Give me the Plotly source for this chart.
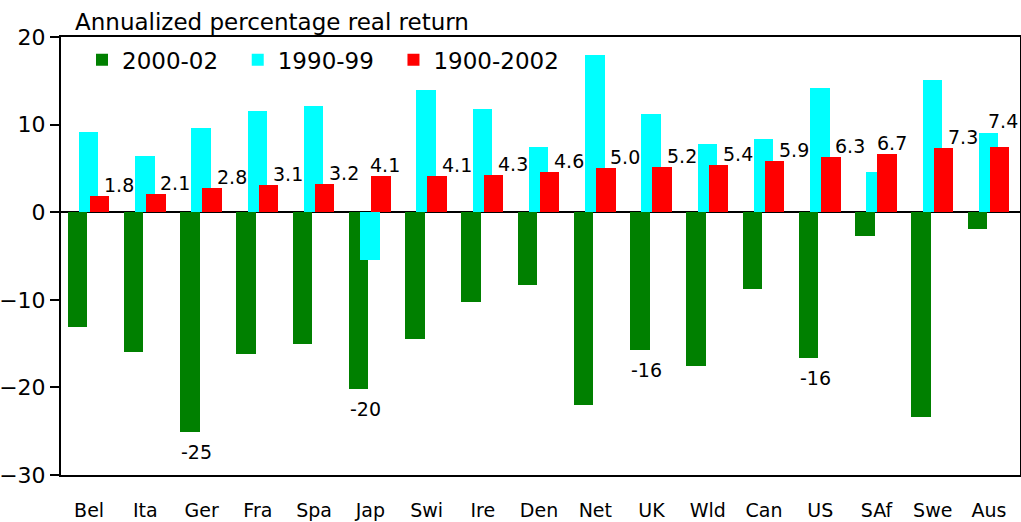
import plotly.graph_objects as go

categories = ["Bel", "Ita", "Ger", "Fra", "Spa", "Jap", "Swi", "Ire", "Den",
              "Net", "UK", "Wld", "Can", "US", "SAf", "Swe", "Aus"]
r_2000_02 = [-13.1, -16.0, -25.1, -16.2, -15.0, -20.2, -14.5, -10.3, -8.3,
             -22.0, -15.7, -17.6, -8.8, -16.7, -2.7, -23.4, -1.9]
r_1990_99 = [9.1, 6.4, 9.6, 11.6, 12.1, -5.4, 13.9, 11.8, 7.5,
             17.9, 11.2, 7.8, 8.3, 14.2, 4.6, 15.1, 9.0]
r_1900_2002 = [1.8, 2.1, 2.8, 3.1, 3.2, 4.1, 4.1, 4.3, 4.6,
               5.0, 5.2, 5.4, 5.9, 6.3, 6.7, 7.3, 7.4]
green_labels = ["", "", "-25", "", "", "-20", "", "", "",
                "", "-16", "", "", "-16", "", "", ""]
series_names = ["2000-02", "1990-99", "1900-2002"]
y_ticks = [-30, -20, -10, 0, 10, 20]

# label nudges (pixels) for the 1900-2002 value labels
red_dx = [30, 30, 30, 30, 30, 15, 30, 30, 30, 30, 30, 30, 30, 30, 15, 30, 14]
red_dy = [11] * 16 + [26]

FONT = "DejaVu Sans"
W = 0.346
PAD = "\u00a0\u00a0"  # legend spacing padding

fig = go.Figure()
fig.add_trace(go.Bar(x=categories, y=r_2000_02, name=series_names[0] + PAD,
                     marker=dict(color="#008000", line=dict(width=0)),
                     width=W, offset=-0.381))
fig.add_trace(go.Bar(x=categories, y=r_1990_99, name=series_names[1] + PAD,
                     marker=dict(color="#00FFFF", line=dict(width=0)),
                     width=W, offset=-0.181))
fig.add_trace(go.Bar(x=categories, y=r_1900_2002, name=series_names[2],
                     marker=dict(color="#FF0000", line=dict(width=0)),
                     width=W, offset=0.014))

annotations = []
for c, v, dx, dy in zip(categories, r_1900_2002, red_dx, red_dy):
    annotations.append(dict(x=c, y=v, xref="x", yref="y", text=f"{v:.1f}",
                            showarrow=False, xshift=dx, yshift=dy,
                            yanchor="middle", xanchor="center",
                            font=dict(family=FONT, size=19, color="black")))
for c, v, t in zip(categories, r_2000_02, green_labels):
    if t:
        annotations.append(dict(x=c, y=v, xref="x", yref="y", text=t,
                                showarrow=False, xshift=-5, yshift=-20,
                                yanchor="middle", xanchor="center",
                                font=dict(family=FONT, size=19, color="black")))
annotations.append(dict(x=0.0125, y=1, xref="paper", yref="paper",
                        text="Annualized percentage real return",
                        showarrow=False, xanchor="left", yanchor="bottom",
                        yshift=0,
                        font=dict(family=FONT, size=23, color="black")))

fig.update_layout(
    width=1021, height=522,
    margin=dict(l=61, r=1, t=37, b=47, autoexpand=False),
    paper_bgcolor="white", plot_bgcolor="white",
    barmode="overlay",
    bargap=0,
    font=dict(family=FONT, color="black"),
    showlegend=True,
    legend=dict(orientation="h", x=0.0219, y=0.997, xanchor="left",
                yanchor="top", bgcolor="rgba(0,0,0,0)",
                font=dict(family=FONT, size=23, color="black"),
                traceorder="normal"),
    annotations=annotations,
)
fig.update_xaxes(showline=True, linecolor="black", linewidth=2, mirror=True,
                 showgrid=False, ticks="", tickfont=dict(family=FONT, size=19),
                 ticklabelstandoff=17, automargin=False)
fig.update_yaxes(range=[-30, 20], tickvals=y_ticks, showline=True,
                 linecolor="black", linewidth=2, mirror=True, showgrid=False,
                 zeroline=True, zerolinecolor="black", zerolinewidth=2,
                 ticks="outside", ticklen=9, tickwidth=2, tickcolor="black",
                 tickfont=dict(family=FONT, size=22), automargin=False)

fig.write_html(
    "out.html",
    config={"displayModeBar": False},
    post_script="document.body.style.margin='0px';"
                "document.body.style.overflow='hidden';",
)
